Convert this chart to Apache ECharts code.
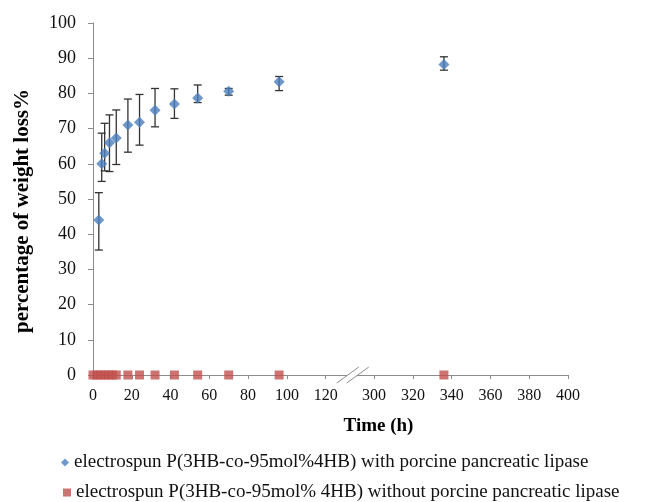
<!DOCTYPE html>
<html>
<head>
<meta charset="utf-8">
<script src="https://cdn.jsdelivr.net/npm/echarts@6/dist/echarts.min.js"></script>
<style>
  html, body { margin: 0; padding: 0; background: #fff; }
  #chart { width: 648px; height: 502px; }
</style>
</head>
<body>
<div id="chart"></div>
<script>
// time points (h) and weight loss (%)
var timeWith = [3, 4.5, 6, 8.5, 12, 18, 24, 32, 42, 54, 70, 96, 336];
var lossWith = [44, 60, 63, 66, 67.3, 71, 71.8, 75.2, 77, 78.7, 80.6, 83.3, 88.2];
var errLow   = [35.5, 55, 58, 57.8, 59.8, 63.3, 65.3, 70.5, 72.9, 77.4, 79.5, 80.8, 86.6];
var errHigh  = [51.8, 68.7, 71.5, 73.9, 75.3, 78.4, 79.7, 81.4, 81.3, 82.4, 81.4, 84.8, 90.4];

var timeWithout = [0, 2, 4, 6, 8, 10, 12, 18, 24, 32, 42, 54, 70, 96, 336];
var lossWithout = [0, 0, 0, 0, 0, 0, 0, 0, 0, 0, 0, 0, 0, 0, 0];

var xTickLabels = [0, 20, 40, 60, 80, 100, 120, 300, 320, 340, 360, 380, 400];

var nameWith = 'electrospun P(3HB-co-95mol%4HB) with porcine pancreatic lipase';
var nameWithout = 'electrospun P(3HB-co-95mol% 4HB) without porcine pancreatic lipase';

// broken axis: 0-130 kept as is, 300-400 shifted left
var BREAK_FROM = 130, SHIFT = 155;
function tx(v) { return v > BREAK_FROM ? v - SHIFT : v; }
function untx(v) { return v > BREAK_FROM ? v + SHIFT : v; }

var tickPos = xTickLabels.map(tx);
var breakAt = BREAK_FROM + 4;

var serif = '"Liberation Serif", "DejaVu Serif", serif';
var legendText = { fontFamily: serif, fontSize: 19, color: '#111' };

var chart = echarts.init(document.getElementById('chart'));
chart.setOption({
  backgroundColor: '#fff',
  animation: false,
  grid: { left: 93, right: 80, top: 23, bottom: 127 },
  legend: [
    {
      left: 56, top: 448, itemGap: 0, itemWidth: 8, itemHeight: 8,
      data: [nameWith], textStyle: legendText
    },
    {
      left: 58, top: 478, itemGap: 0, itemWidth: 8, itemHeight: 8,
      data: [nameWithout], textStyle: legendText
    }
  ],
  xAxis: {
    type: 'value',
    min: 0,
    max: tx(400),
    name: 'Time (h)',
    nameLocation: 'middle',
    nameGap: 42,
    nameTextStyle: { fontFamily: serif, fontSize: 19, fontWeight: 'bold', color: '#000', padding: [0, 0, 0, 96] },
    axisLine: { lineStyle: { color: '#8c8c8c', width: 1 } },
    axisTick: { show: true, length: 4, customValues: tickPos, lineStyle: { color: '#8c8c8c' } },
    axisLabel: {
      customValues: tickPos,
      margin: 13,
      fontFamily: serif, fontSize: 16, color: '#111',
      formatter: function (v) { return String(Math.round(untx(v))); }
    },
    splitLine: { show: false }
  },
  yAxis: {
    type: 'value',
    min: 0,
    max: 100,
    interval: 10,
    name: 'percentage of weight loss%',
    nameLocation: 'middle',
    nameRotate: 90,
    nameGap: 60,
    nameTextStyle: { fontFamily: serif, fontSize: 21, fontWeight: 'bold', color: '#000', padding: [0, 24, 0, 0] },
    axisLine: { show: true, lineStyle: { color: '#8c8c8c', width: 1 } },
    axisTick: { show: true, length: 5, lineStyle: { color: '#8c8c8c' } },
    axisLabel: { margin: 17, fontFamily: serif, fontSize: 18, color: '#111' },
    splitLine: { show: false }
  },
  series: [
    {
      name: 'error',
      type: 'custom',
      z: 2,
      data: timeWith.map(function (t, i) { return [tx(t), errLow[i], errHigh[i]]; }),
      renderItem: function (params, api) {
        var lo = api.coord([api.value(0), api.value(1)]);
        var hi = api.coord([api.value(0), api.value(2)]);
        var w = 4;
        var st = { stroke: '#333', lineWidth: 1.3 };
        return {
          type: 'group',
          children: [
            { type: 'line', shape: { x1: lo[0], y1: lo[1], x2: hi[0], y2: hi[1] }, style: st },
            { type: 'line', shape: { x1: lo[0] - w, y1: lo[1], x2: lo[0] + w, y2: lo[1] }, style: st },
            { type: 'line', shape: { x1: hi[0] - w, y1: hi[1], x2: hi[0] + w, y2: hi[1] }, style: st }
          ]
        };
      }
    },
    {
      name: nameWith,
      type: 'scatter',
      symbol: 'diamond',
      symbolSize: [11, 11],
      z: 3,
      itemStyle: { color: '#4a7ebb' },
      data: timeWith.map(function (t, i) { return [tx(t), lossWith[i]]; })
    },
    {
      name: nameWithout,
      type: 'scatter',
      symbol: 'rect',
      symbolSize: 9,
      z: 3,
      clip: false,
      itemStyle: { color: '#c0504d' },
      data: timeWithout.map(function (t, i) { return [tx(t), lossWithout[i]]; })
    },
    {
      name: 'break',
      type: 'custom',
      z: 4,
      clip: false,
      silent: true,
      data: [[breakAt, 0]],
      renderItem: function (params, api) {
        var p = api.coord([api.value(0), api.value(1)]);
        var dx = 11, dy = 8, g = 5;
        var st = { stroke: '#8c8c8c', lineWidth: 1 };
        return {
          type: 'group',
          children: [
            { type: 'polygon', shape: { points: [[p[0] - dx - g, p[1] + dy], [p[0] + dx - g, p[1] - dy], [p[0] + dx + g, p[1] - dy], [p[0] - dx + g, p[1] + dy]] }, style: { fill: '#fff' } },
            { type: 'line', shape: { x1: p[0] - dx - g, y1: p[1] + dy, x2: p[0] + dx - g, y2: p[1] - dy }, style: st },
            { type: 'line', shape: { x1: p[0] - dx + g, y1: p[1] + dy, x2: p[0] + dx + g, y2: p[1] - dy }, style: st }
          ]
        };
      }
    }
  ]
});
</script>
</body>
</html>
